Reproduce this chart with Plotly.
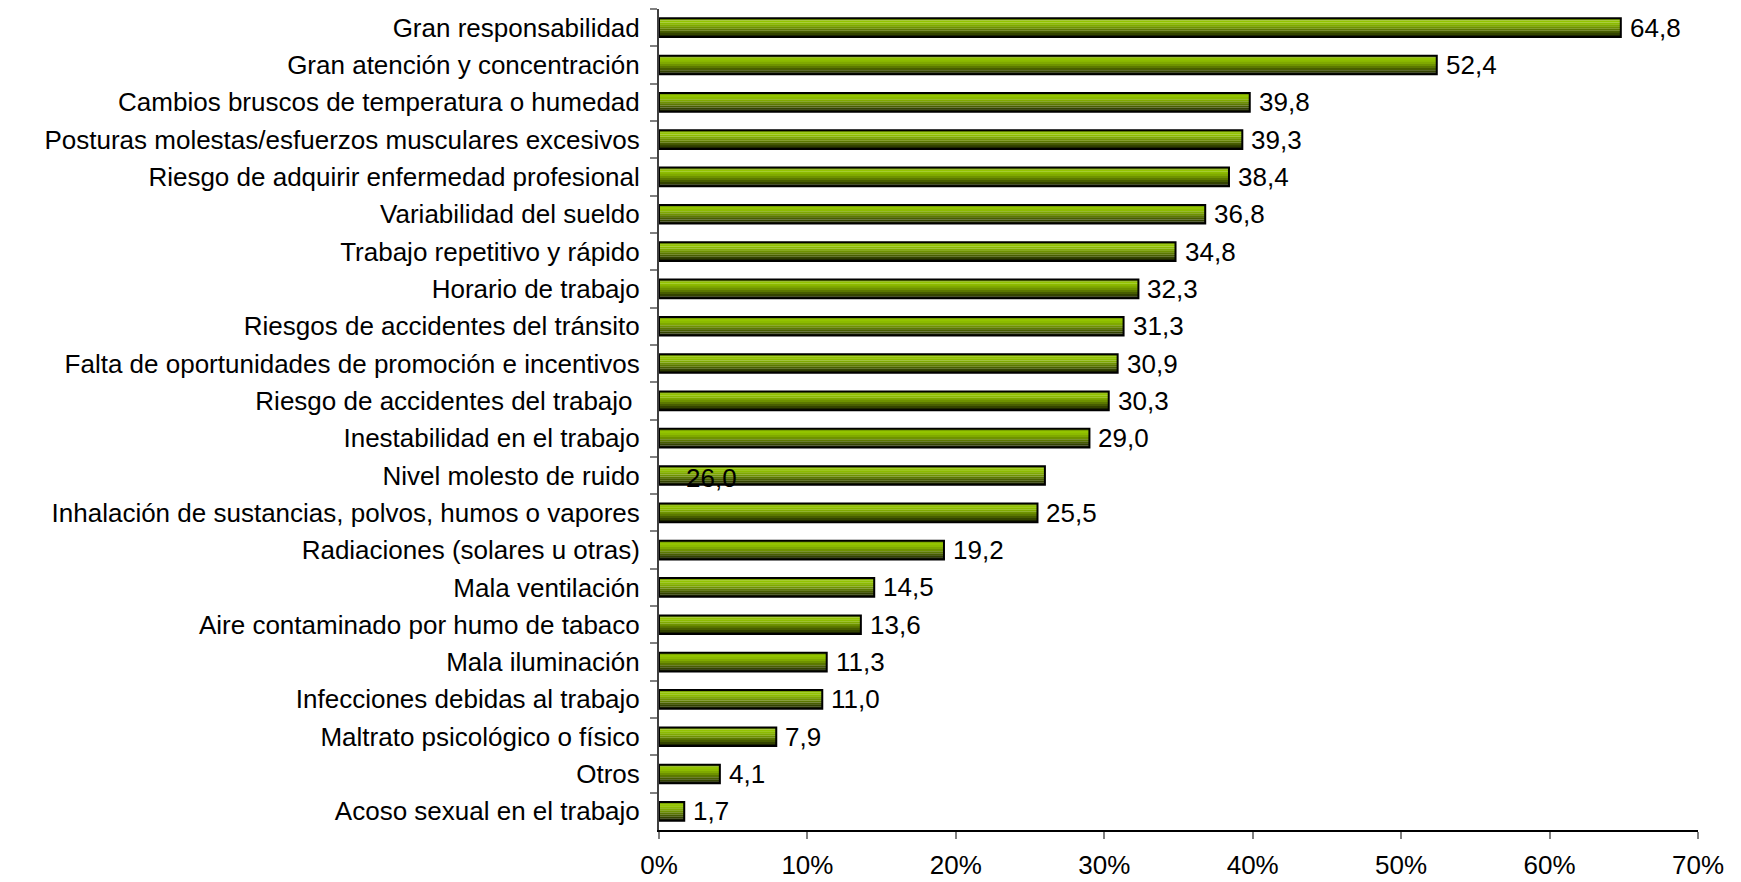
import plotly.graph_objects as go

# categories listed top to bottom, as in the chart
categories = [
    "Gran responsabilidad",
    "Gran atención y concentración",
    "Cambios bruscos de temperatura o humedad",
    "Posturas molestas/esfuerzos musculares excesivos",
    "Riesgo de adquirir enfermedad profesional",
    "Variabilidad del sueldo",
    "Trabajo repetitivo y rápido",
    "Horario de trabajo",
    "Riesgos de accidentes del tránsito",
    "Falta de oportunidades de promoción e incentivos",
    "Riesgo de accidentes del trabajo\u00a0",
    "Inestabilidad en el trabajo",
    "Nivel molesto de ruido",
    "Inhalación de sustancias, polvos, humos o vapores",
    "Radiaciones (solares u otras)",
    "Mala ventilación",
    "Aire contaminado por humo de tabaco",
    "Mala iluminación",
    "Infecciones debidas al trabajo",
    "Maltrato psicológico o físico",
    "Otros",
    "Acoso sexual en el trabajo",
]

values = [64.8, 52.4, 39.8, 39.3, 38.4, 36.8, 34.8, 32.3, 31.3, 30.9, 30.3,
          29.0, 26.0, 25.5, 19.2, 14.5, 13.6, 11.3, 11.0, 7.9, 4.1, 1.7]

x_ticks = [0, 10, 20, 30, 40, 50, 60, 70]

FONT = "Liberation Sans, Arial, sans-serif"
FS = 26

# shades for the fake vertical gradient of the bars, top to bottom
stripe_colors = ['#7aa200', '#93c400', '#8cbb00', '#7fa900', '#6e9200',
                 '#5b7800', '#475d00', '#334300', '#1c2500']

bar_w = 0.5
h = bar_w / len(stripe_colors)

fig = go.Figure()

for i, c in enumerate(stripe_colors):
    fig.add_trace(go.Bar(
        x=values, y=categories, orientation='h',
        width=h * 1.05, offset=-bar_w / 2 + i * h,
        marker=dict(color=c, line=dict(width=0)),
        showlegend=False, hoverinfo='skip'
    ))

# outline on top
fig.add_trace(go.Bar(
    x=values, y=categories, orientation='h',
    width=bar_w, offset=-bar_w / 2,
    marker=dict(color='rgba(0,0,0,0)', line=dict(color='black', width=2)),
    showlegend=False
))

# value labels
for cat, v in zip(categories, values):
    txt = f"{v:.1f}".replace('.', ',')
    if cat == "Nivel molesto de ruido":
        # this label sits inside the bar in the original
        fig.add_annotation(x=0, y=cat, text=txt, showarrow=False,
                           xanchor='left', xshift=25, yshift=-3,
                           font=dict(family=FONT, size=FS, color='black'))
    else:
        fig.add_annotation(x=v, y=cat, text=txt, showarrow=False,
                           xanchor='left', xshift=7,
                           font=dict(family=FONT, size=FS, color='black'))

fig.update_layout(
    width=1741, height=882,
    margin=dict(l=659, r=43, t=9, b=52),
    barmode='overlay',
    plot_bgcolor='white', paper_bgcolor='white',
    font=dict(family=FONT, size=FS, color='black'),
    xaxis=dict(
        range=[0, 70], tickvals=x_ticks,
        ticktext=[f"{t}%" for t in x_ticks],
        showgrid=False, zeroline=False, automargin=False,
        showline=True, linecolor='black', linewidth=2,
        ticks='outside', ticklen=7, tickcolor='#808080', tickwidth=2,
        ticklabelstandoff=4,
    ),
    yaxis=dict(
        categoryorder='array', categoryarray=categories,
        autorange='reversed', automargin=False,
        showgrid=False, zeroline=False,
        showline=True, linecolor='#404040', linewidth=2,
        ticks='outside', tickson='boundaries', ticklen=7,
        tickcolor='#808080', tickwidth=2,
        ticklabelstandoff=12,
    ),
)

# drop the default page margin so the figure sits at the window corner
fig.write_html("out.html", config={'displayModeBar': False},
               post_script="document.body.style.margin='0';")
